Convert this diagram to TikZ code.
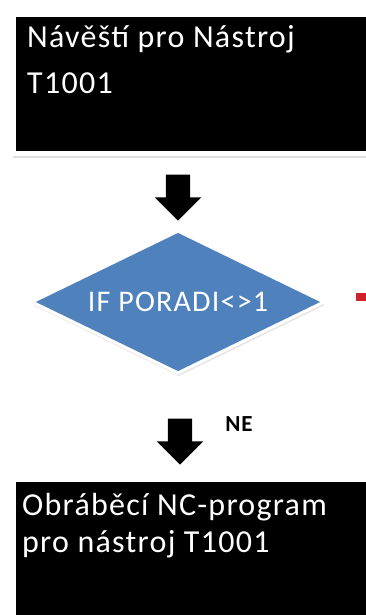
\documentclass[tikz,border=0pt]{standalone}
\usepackage{fontspec}
\setmainfont{Carlito}[LetterSpace=4]
\usetikzlibrary{shapes.geometric,shapes.arrows,shadows,positioning}
\definecolor{officeblue}{HTML}{4F81BD}
\definecolor{tipred}{HTML}{D0202A}
\tikzset{
  blackbox/.style={fill=black,draw=white,line width=5pt,anchor=north west,inner sep=0pt,
    minimum width=380pt,minimum height=138pt,
    drop shadow={opacity=0.25,shadow xshift=0pt,shadow yshift=-5pt}},
  boxtext/.style={text=white,align=left,anchor=north west,inner sep=0pt},
  blockarrow/.style={single arrow,fill=black,rotate=-90,inner sep=0pt,
    text height=12pt,text depth=12pt,single arrow head extend=11pt,
    single arrow tip angle=90,minimum height=46pt},
  decision/.style={diamond,shape aspect=2,fill=officeblue,draw=white,line width=3pt,inner sep=0pt,
    minimum width=293pt,minimum height=143pt,text=white,
    font=\fontsize{30}{32}\selectfont,
    drop shadow={opacity=0.2,shadow xshift=1pt,shadow yshift=-3pt}}
}
\begin{document}
\begin{tikzpicture}[x=1pt,y=-1pt]
\useasboundingbox[fill=white] (0,0) rectangle (366,615);
\node[blackbox] (label) at (10.5,12.5) {};
\node[boxtext,font=\fontsize{32}{46}\selectfont] (labeltext) at (27,25) {Návěští pro Nástroj\\T1001};
\node[blockarrow] (arrowA) at (178,191.5) {};
\node[decision] (cond) at (178,302) {IF PORADI<>1};
\node[fill=tipred,inner sep=0pt,minimum width=11pt,minimum height=8pt] (yes) at (361,297) {};
\node[blockarrow] (arrowB) at (180,435.5) {};
\node[font=\bfseries\fontsize{23}{26}\selectfont,inner sep=0pt] (no) at (239,424) {NE};
\node[blackbox] (prog) at (10.5,476.5) {};
\node[boxtext,font=\fontsize{32}{37}\selectfont] (progtext) at (22,493) {Obráběcí NC-program\\pro nástroj T1001};
\end{tikzpicture}
\end{document}
